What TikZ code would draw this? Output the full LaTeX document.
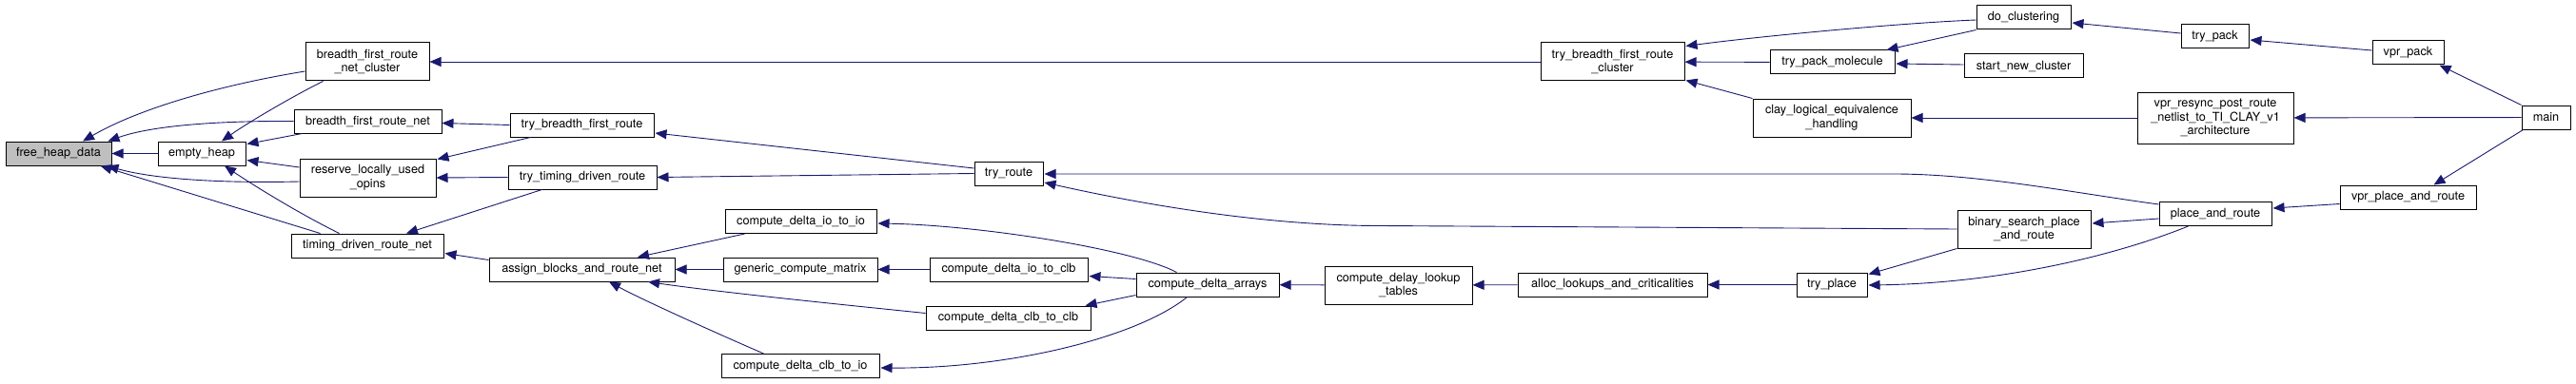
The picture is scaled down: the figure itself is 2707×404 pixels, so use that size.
\documentclass[tikz,border=0pt]{standalone}
\usepackage{fontspec}
\setmainfont{TeX Gyre Heros}
\usetikzlibrary{arrows.meta,calc}
\definecolor{edgeblue}{RGB}{25,25,112}
\definecolor{hilite}{RGB}{191,191,191}
\begin{document}
\begin{tikzpicture}[x=1pt,y=-1pt,
  fbox/.style={draw=black, line width=1pt, inner sep=0pt, align=center,
    font=\fontsize{12.7}{14.5}\selectfont, minimum height=25pt},
  edge/.style={draw=edgeblue, line width=0.9pt, -{Triangle[length=12pt,width=10pt]}}]
\fill[white] (0,0) rectangle (2707,404);
\useasboundingbox (0,0) rectangle (2707,404);
% nodes
\node[fbox, fill=hilite, minimum width=111pt] (fhd) at (61.5,161.5) {free\_heap\_data};
\node[fbox, minimum width=92pt] (eh) at (212,161.5) {empty\_heap};
\node[fbox, minimum width=130pt, minimum height=40pt] (bfrnc) at (386,65) {breadth\_first\_route\\\_net\_cluster};
\node[fbox, minimum width=155pt] (bfrn) at (386.5,127.5) {breadth\_first\_route\_net};
\node[fbox, minimum width=143pt, minimum height=40pt] (rluo) at (386.5,187) {reserve\_locally\_used\\\_opins};
\node[fbox, minimum width=160pt] (tdrn) at (386,258.5) {timing\_driven\_route\_net};
\node[fbox, minimum width=151pt] (tbfr) at (611.5,131.5) {try\_breadth\_first\_route};
\node[fbox, minimum width=156pt] (ttdr) at (612,186.5) {try\_timing\_driven\_route};
\node[fbox, minimum width=195pt] (abarn) at (611.5,283.5) {assign\_blocks\_and\_route\_net};
\node[fbox, minimum width=72pt] (tr) at (1060,182.5) {try\_route};
\node[fbox, minimum width=159pt] (cdioio) at (841.5,233) {compute\_delta\_io\_to\_io};
\node[fbox, minimum width=162pt] (gcm) at (841,283.5) {generic\_compute\_matrix};
\node[fbox, minimum width=166pt] (cdclbio) at (841,385) {compute\_delta\_clb\_to\_io};
\node[fbox, minimum width=166pt] (cdioclb) at (1060,283.5) {compute\_delta\_io\_to\_clb};
\node[fbox, minimum width=173pt] (cdclbclb) at (1059.5,334.5) {compute\_delta\_clb\_to\_clb};
\node[fbox, minimum width=150pt] (cda) at (1269,299.5) {compute\_delta\_arrays};
\node[fbox, minimum width=155pt, minimum height=40pt] (cdlt) at (1469.5,300) {compute\_delay\_lookup\\\_tables};
\node[fbox, minimum width=151pt, minimum height=40pt] (tbfrc) at (1694.5,65) {try\_breadth\_first\_route\\\_cluster};
\node[fbox, minimum width=199pt] (alc) at (1694.5,299.5) {alloc\_lookups\_and\_criticalities};
\node[fbox, minimum width=131pt] (tpm) at (1925.5,65.5) {try\_pack\_molecule};
\node[fbox, minimum width=166pt, minimum height=40pt] (clay) at (1925,124) {clay\_logical\_equivalence\\\_handling};
\node[fbox, minimum width=74pt] (tp) at (1925,299.5) {try\_place};
\node[fbox, minimum width=99pt] (dc) at (2126.5,18.5) {do\_clustering};
\node[fbox, minimum width=125pt] (snc) at (2126.5,69.5) {start\_new\_cluster};
\node[fbox, minimum width=140pt, minimum height=40pt] (bspr) at (2127,241) {binary\_search\_place\\\_and\_route};
\node[fbox, minimum width=71pt] (tpk) at (2327.5,38.5) {try\_pack};
\node[fbox, minimum width=164pt, minimum height=54pt] (vres) at (2328,124) {vpr\_resync\_post\_route\\\_netlist\_to\_TI\_CLAY\_v1\\\_architecture};
\node[fbox, minimum width=118pt] (par) at (2328,225) {place\_and\_route};
\node[fbox, minimum width=75pt] (vpk) at (2530.5,55.5) {vpr\_pack};
\node[fbox, minimum width=143pt] (vpar) at (2530.5,207.5) {vpr\_place\_and\_route};
\node[fbox, minimum width=51pt] (main) at (2675.5,123.5) {main};
% edges
\draw[edge] (eh) -- (fhd);
\draw[edge] ($(bfrnc.west)+(0,10)$) .. controls (240,88) and (150,112) .. ($(fhd.north)+(25.5,0)$);
\draw[edge] (bfrn.west) .. controls (230,127) and (160,132) .. ($(fhd.north east)+(-4,0)$);
\draw[edge] ($(rluo.west)+(0,4)$) .. controls (230,193) and (160,188) .. ($(fhd.south east)+(-5,0)$);
\draw[edge] ($(tdrn.north west)+(31,0)$) -- ($(fhd.south east)+(-12,0)$);
\draw[edge] ($(bfrnc.south west)+(19,0)$) .. controls (310,100) and (262,128) .. ($(eh.north)+(21,0)$);
\draw[edge] ($(bfrn.south west)+(9,0)$) -- ($(eh.north east)+(1,3)$);
\draw[edge] ($(rluo.west)+(0,-11)$) -- ($(eh.south east)+(1,-6)$);
\draw[edge] ($(tdrn.north west)+(51,0)$) .. controls (315,225) and (268,196) .. ($(eh.south)+(24,0)$);
\draw[edge] (tbfr.west) -- ($(bfrn.east)+(0,2)$);
\draw[edge] ($(tbfr.south west)+(22,0)$) -- ($(rluo.north east)+(1,1)$);
\draw[edge] (ttdr.west) -- (rluo.east);
\draw[edge] ($(ttdr.south west)+(36,0)$) -- ($(tdrn.north)+(41,0)$);
\draw[edge] ($(abarn.west)+(0,-10)$) -- ($(tdrn.east)+(1,8)$);
\draw[edge] ($(tr.west)+(0,-5.5)$) -- ($(tbfr.east)+(1,8.5)$);
\draw[edge] (tr.west) -- (ttdr.east);
\draw[edge] ($(cdioio.south west)+(21,0)$) -- ($(abarn.north)+(58.5,0)$);
\draw[edge] (gcm) -- (abarn);
\draw[edge] ($(cdclbclb.west)+(0,-5)$) .. controls (900,322) and (760,308) .. ($(abarn.south)+(69.5,0)$);
\draw[edge] ($(cdclbio.north west)+(45,0)$) .. controls (770,358) and (680,318) .. ($(abarn.south)+(28.5,0)$);
\draw[edge] (cdioclb) -- (gcm);
\draw[edge] ($(cda.north west)+(43,0)$) .. controls (1190,262) and (1030,237) .. ($(cdioio.east)+(1,2)$);
\draw[edge] ($(cda.west)+(0,-6)$) -- ($(cdioclb.east)+(1,7)$);
\draw[edge] ($(cda.west)+(0,11)$) -- ($(cdclbclb.north east)+(-6,0)$);
\draw[edge] ($(cda.south west)+(54,0)$) .. controls (1195,355) and (1060,388) .. ($(cdclbio.east)+(1,2)$);
\draw[edge] (cdlt) -- (cda);
\draw[edge] (alc) -- (cdlt);
\draw[edge] (tp) -- (alc);
\draw[edge] ($(par.west)+(0,-10)$) .. controls (2180,203) and (2080,183) .. (1990,183) -- ($(tr.east)+(1,0.5)$);
\draw[edge] (bspr.west) -- (1450,237.5) .. controls (1330,237.5) and (1200,215) .. ($(tr.east)+(1,9.5)$);
\draw[edge] (tbfrc) -- (bfrnc);
\draw[edge] ($(dc.west)+(0,2.5)$) .. controls (2000,24) and (1850,38) .. ($(tbfrc.north east)+(1,4)$);
\draw[edge] (tpm) -- (tbfrc);
\draw[edge] (clay.north west) -- ($(tbfrc.south east)+(1,-1)$);
\draw[edge] (dc.south west) -- ($(tpm.north east)+(-9,0)$);
\draw[edge] ($(snc.west)+(0,-1.5)$) -- ($(tpm.east)+(1,1.5)$);
\draw[edge] ($(tpk.west)+(0,-3.5)$) -- ($(dc.east)+(1,5.5)$);
\draw[edge] (vres) -- (clay);
\draw[edge] ($(par.west)+(0,5)$) -- ($(bspr.east)+(1,-6)$);
\draw[edge] ($(par.south west)+(31,0)$) .. controls (2220,270) and (2100,298) .. ($(tp.east)+(1,0.5)$);
\draw[edge] (bspr.south west) -- ($(tp.north east)+(1,2)$);
\draw[edge] ($(vpk.west)+(0,-2.5)$) -- ($(tpk.east)+(1,3.5)$);
\draw[edge] (main.north west) -- ($(vpk.south east)+(-5,0)$);
\draw[edge] (main) -- (vres);
\draw[edge] ($(main.south west)+(2,0)$) -- ($(vpar.north)+(27,0)$);
\draw[edge] ($(vpar.west)+(0,7)$) -- ($(par.east)+(1,-6)$);
\end{tikzpicture}
\end{document}
